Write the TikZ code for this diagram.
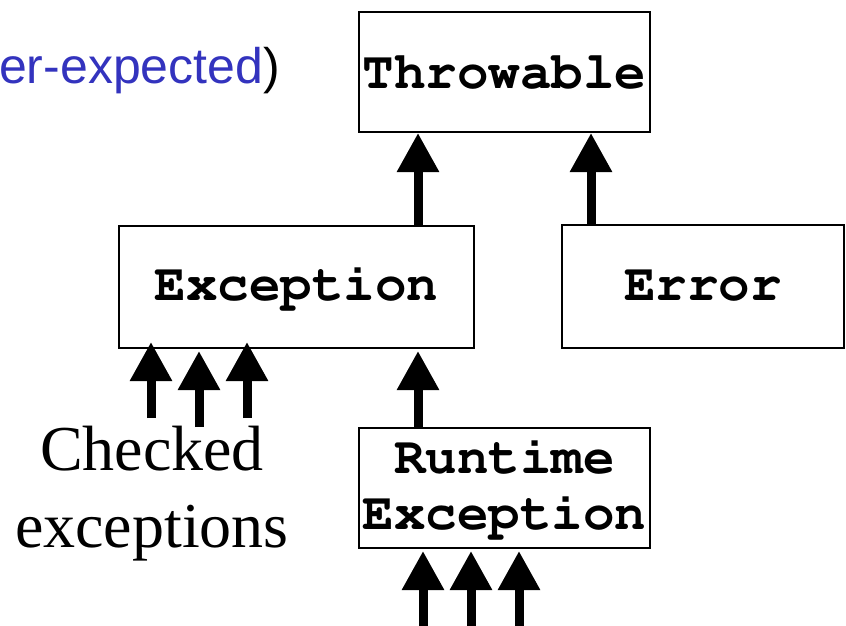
\documentclass[tikz,border=0pt]{standalone}
\usepackage[T1]{fontenc}
\usepackage{fontspec}
\setmainfont{Liberation Serif}
\newfontfamily\helv{Liberation Sans}
\newcommand{\courb}{\fontencoding{T1}\fontfamily{pcr}\fontseries{b}\selectfont}
\usetikzlibrary{arrows.meta,calc}
\definecolor{textblue}{RGB}{51,51,190}
\tikzset{
  classbox/.style={draw=black, line width=2pt, fill=white, inner sep=0pt, align=center,
    font=\courb\fontsize{52.5}{56}\selectfont},
  arr/.style={line width=9pt, -{Triangle[width=40pt,length=39pt]}},
  labeltext/.style={inner sep=0pt, align=center, font=\fontsize{64}{77}\selectfont}
}
\begin{document}
\begin{tikzpicture}[x=1pt,y=-1pt]
\useasboundingbox (0,0) rectangle (846,626);
% boxes
\node[classbox, minimum width=291pt, minimum height=120pt] (thr) at (504.5,72) {Throwable};
\node[classbox, minimum width=355pt, minimum height=122pt] (exc) at (296.5,287) {Exception};
\node[classbox, minimum width=282pt, minimum height=123pt] (err) at (703,286.5) {Error};
\node[classbox, minimum width=291pt, minimum height=120pt] (rt) at (504.5,488) {Runtime\\Exception};
% text
\node[inner sep=0pt, anchor=base east, font=\helv\fontsize{50}{60}\selectfont] (top) at (280,83) {\textcolor{textblue}{er-expected})};
\node[labeltext, anchor=base] (chk) at (152,547) {Checked\\exceptions};
% x positions of arrows
\coordinate (xa) at (418,0);
\coordinate (xb) at (591,0);
\coordinate (c1) at (151,0);
\coordinate (c2) at (199,0);
\coordinate (c3) at (247,0);
\coordinate (r1) at (423,0);
\coordinate (r2) at (471,0);
\coordinate (r3) at (519,0);
% free ends
\coordinate (c1e) at (151,418);
\coordinate (c2e) at (199,427);
\coordinate (c3e) at (247,418);
\coordinate (r1e) at (423,626);
\coordinate (r2e) at (471,626);
\coordinate (r3e) at (519,626);
% connectors
\draw[arr] (exc.north -| xa) -- (thr.south -| xa);
\draw[arr] (err.north -| xb) -- (thr.south -| xb);
\draw[arr] (rt.north -| xa) -- ($(exc.south -| xa)+(0,2)$);
\draw[arr] (c1e) -- ($(exc.south -| c1)+(0,-7)$);
\draw[arr] (c2e) -- ($(exc.south -| c2)+(0,2)$);
\draw[arr] (c3e) -- ($(exc.south -| c3)+(0,-7)$);
\draw[arr] (r1e) -- ($(rt.south -| r1)+(0,2)$);
\draw[arr] (r2e) -- ($(rt.south -| r2)+(0,2)$);
\draw[arr] (r3e) -- ($(rt.south -| r3)+(0,2)$);
\end{tikzpicture}
\end{document}
